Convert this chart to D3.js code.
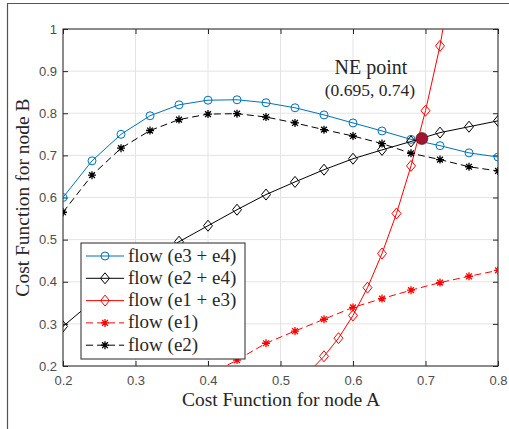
<!DOCTYPE html>
<html>
<head>
<meta charset="utf-8">
<script src="https://cdn.jsdelivr.net/npm/d3@7"></script>
<style>
  body { margin: 0; background: #fff; }
  .lbl { font-family: "Liberation Serif", serif; fill: #262626; }
</style>
</head>
<body>
<svg id="chart"></svg>
<script>
var w = 509, h = 429;
var margin = {left: 63, top: 29, right: 11, bottom: 63};

// data
var xE3E4 = [0.2, 0.24, 0.28, 0.32, 0.36, 0.40, 0.44, 0.48, 0.52, 0.56, 0.60, 0.64, 0.68, 0.72, 0.76, 0.80];
var yE3E4 = [0.600, 0.687, 0.750, 0.794, 0.820, 0.831, 0.832, 0.825, 0.813, 0.796, 0.777, 0.758, 0.738, 0.723, 0.706, 0.696];

var xE2E4 = [0.2, 0.24, 0.28, 0.32, 0.36, 0.40, 0.44, 0.48, 0.52, 0.56, 0.60, 0.64, 0.68, 0.72, 0.76, 0.80];
var yE2E4 = [0.294, 0.352, 0.405, 0.452, 0.495, 0.533, 0.571, 0.607, 0.637, 0.666, 0.692, 0.713, 0.733, 0.754, 0.768, 0.782];

var xE1E3 = [0.54, 0.56, 0.58, 0.60, 0.62, 0.64, 0.66, 0.68, 0.70, 0.72, 0.74];
var yE1E3 = [0.187, 0.223, 0.266, 0.320, 0.386, 0.467, 0.562, 0.675, 0.806, 0.960, 1.160];

var xE1 = [0.40, 0.44, 0.48, 0.52, 0.56, 0.60, 0.64, 0.68, 0.72, 0.76, 0.80];
var yE1 = [0.178, 0.214, 0.254, 0.283, 0.311, 0.339, 0.360, 0.380, 0.398, 0.413, 0.427];

var xE2 = [0.2, 0.24, 0.28, 0.32, 0.36, 0.40, 0.44, 0.48, 0.52, 0.56, 0.60, 0.64, 0.68, 0.72, 0.76, 0.80];
var yE2 = [0.565, 0.653, 0.717, 0.759, 0.785, 0.798, 0.799, 0.791, 0.777, 0.761, 0.746, 0.728, 0.705, 0.690, 0.673, 0.663];

var nePoint = [0.695, 0.74];
var xTicks = [0.2, 0.3, 0.4, 0.5, 0.6, 0.7, 0.8];
var yTicks = [0.2, 0.3, 0.4, 0.5, 0.6, 0.7, 0.8, 0.9, 1];

var series = [
  {name: "flow (e3 + e4)", xs: xE3E4, ys: yE3E4, color: "#0072BD", dash: null, marker: "circle"},
  {name: "flow (e2 + e4)", xs: xE2E4, ys: yE2E4, color: "#000000", dash: null, marker: "diamond"},
  {name: "flow (e1 + e3)", xs: xE1E3, ys: yE1E3, color: "#FF0000", dash: null, marker: "diamond"},
  {name: "flow (e1)", xs: xE1, ys: yE1, color: "#FF0000", dash: "7,4", marker: "star"},
  {name: "flow (e2)", xs: xE2, ys: yE2, color: "#000000", dash: "7,4", marker: "star"}
];

var x = d3.scaleLinear().domain([0.2, 0.8]).range([margin.left, w - margin.right]);
var y = d3.scaleLinear().domain([0.2, 1]).range([h - margin.bottom, margin.top]);

var svg = d3.select("#chart").attr("width", w).attr("height", h);

// figure frame (only top and left edges show)
svg.append("path")
    .attr("d", "M7.5," + h + "V3.5H" + w)
    .attr("fill", "none").attr("stroke", "#555").attr("stroke-width", 1.2);

svg.append("defs").append("clipPath").attr("id", "clip")
  .append("rect")
    .attr("x", margin.left).attr("y", margin.top)
    .attr("width", w - margin.left - margin.right)
    .attr("height", h - margin.top - margin.bottom);

// grid
var grid = svg.append("g").attr("stroke", "#e3e3e3").attr("stroke-width", 1);
grid.selectAll(".gx").data(xTicks).enter().append("line")
    .attr("x1", function(d) { return x(d); }).attr("x2", function(d) { return x(d); })
    .attr("y1", y(0.2)).attr("y2", y(1));
grid.selectAll(".gy").data(yTicks).enter().append("line")
    .attr("y1", function(d) { return y(d); }).attr("y2", function(d) { return y(d); })
    .attr("x1", x(0.2)).attr("x2", x(0.8));

var fmt = function(d) { return d === 1 ? "1" : d3.format(".1f")(d); };

function styleAxis(g) {
  g.select(".domain").remove();
  g.selectAll("line").attr("stroke", "#262626");
  g.selectAll("text")
      .style("font-family", "'Liberation Sans', Arial, sans-serif")
      .style("font-size", "13px")
      .style("fill", "#4d4d4d");
}

// axes, ticks inward
svg.append("g").attr("transform", "translate(0," + y(0.2) + ")")
    .call(d3.axisBottom(x).tickValues(xTicks).tickFormat(fmt).tickSizeInner(-5).tickSizeOuter(0).tickPadding(10))
    .call(styleAxis);
svg.append("g").attr("transform", "translate(" + x(0.2) + ",0)")
    .call(d3.axisLeft(y).tickValues(yTicks).tickFormat(fmt).tickSizeInner(-5).tickSizeOuter(0).tickPadding(6))
    .call(styleAxis);
svg.append("g").attr("transform", "translate(0," + y(1) + ")")
    .call(d3.axisTop(x).tickValues(xTicks).tickFormat("").tickSizeInner(-5).tickSizeOuter(0))
    .call(styleAxis);
svg.append("g").attr("transform", "translate(" + x(0.8) + ",0)")
    .call(d3.axisRight(y).tickValues(yTicks).tickFormat("").tickSizeInner(-5).tickSizeOuter(0))
    .call(styleAxis);

svg.append("rect")
    .attr("x", x(0.2)).attr("y", y(1))
    .attr("width", x(0.8) - x(0.2)).attr("height", y(0.2) - y(1))
    .attr("fill", "none").attr("stroke", "#262626").attr("stroke-width", 1);

function drawMarker(g, type, color) {
  if (type === "circle") {
    g.append("circle").attr("r", 4).attr("fill", "none").attr("stroke", color).attr("stroke-width", 1);
  } else if (type === "diamond") {
    g.append("path").attr("d", "M0,-5.5L4.5,0L0,5.5L-4.5,0Z").attr("fill", "none").attr("stroke", color).attr("stroke-width", 1);
  } else {
    g.append("path").attr("d", "M-4,0H4M0,-4V4M-2.9,-2.9L2.9,2.9M-2.9,2.9L2.9,-2.9")
        .attr("stroke", color).attr("stroke-width", 1.3);
  }
}

var line = d3.line().x(function(d) { return x(d[0]); }).y(function(d) { return y(d[1]); });
var plot = svg.append("g").attr("clip-path", "url(#clip)");

series.forEach(function(s) {
  var pts = s.xs.map(function(v, i) { return [v, s.ys[i]]; });
  plot.append("path").datum(pts)
      .attr("d", line)
      .attr("fill", "none").attr("stroke", s.color).attr("stroke-width", 1)
      .attr("stroke-dasharray", s.dash);
  plot.selectAll(null).data(pts).enter().append("g")
      .attr("transform", function(d) { return "translate(" + x(d[0]) + "," + y(d[1]) + ")"; })
      .each(function() { drawMarker(d3.select(this), s.marker, s.color); });
});

// NE point
plot.append("circle")
    .attr("cx", x(nePoint[0])).attr("cy", y(nePoint[1])).attr("r", 6)
    .attr("fill", "#A2142F").attr("stroke", "#3a0a12").attr("stroke-width", 0.6);

svg.append("text").attr("class", "lbl")
    .attr("x", 371).attr("y", 74).attr("text-anchor", "middle")
    .style("font-size", "20px").text("NE point");
svg.append("text").attr("class", "lbl")
    .attr("x", 370).attr("y", 96).attr("text-anchor", "middle")
    .style("font-size", "17.5px").text("(" + nePoint[0] + ", " + nePoint[1] + ")");

// axis titles
svg.append("text").attr("class", "lbl")
    .attr("x", 281).attr("y", 406).attr("text-anchor", "middle")
    .style("font-size", "19.5px").text("Cost Function for node A");
svg.append("text").attr("class", "lbl")
    .attr("transform", "translate(29," + (y(0.2) + y(1)) / 2 + ")rotate(-90)")
    .attr("text-anchor", "middle")
    .style("font-size", "19.5px").text("Cost Function for node B");

// legend
var lg = svg.append("g").attr("transform", "translate(81,243)");
lg.append("rect").attr("width", 164).attr("height", 116)
    .attr("fill", "#fff").attr("stroke", "#262626").attr("stroke-width", 1);
series.forEach(function(s, i) {
  var row = lg.append("g").attr("transform", "translate(0," + (13 + i * 22.3) + ")");
  row.append("line").attr("x1", 5).attr("x2", 43)
      .attr("stroke", s.color).attr("stroke-width", 1).attr("stroke-dasharray", s.dash);
  drawMarker(row.append("g").attr("transform", "translate(24,0)"), s.marker, s.color);
  row.append("text").attr("class", "lbl").attr("x", 47).attr("y", 5.5)
      .style("font-size", "19px").text(s.name);
});
</script>
</body>
</html>
